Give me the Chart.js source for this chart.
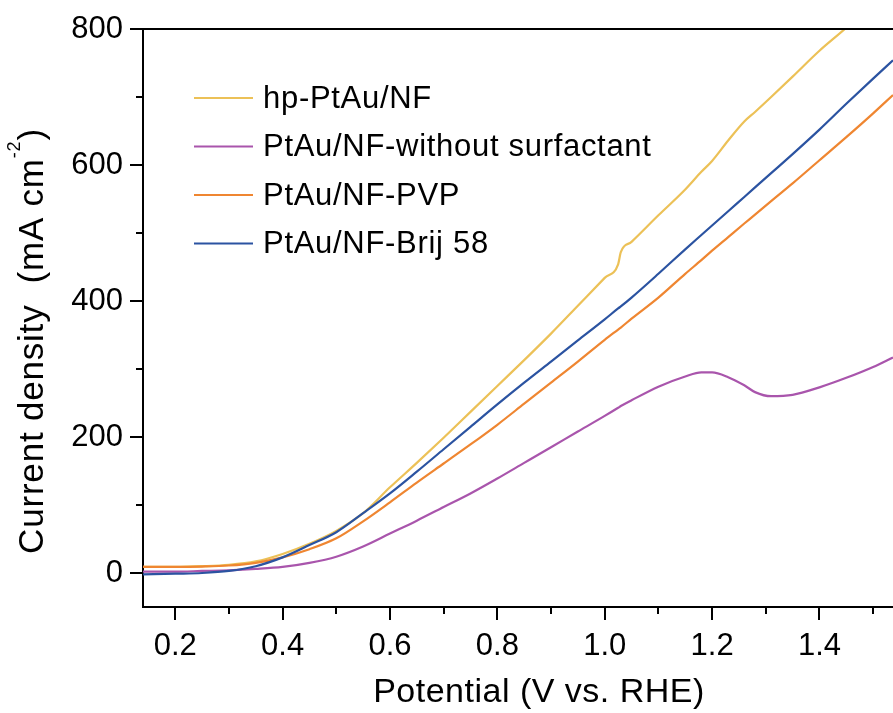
<!DOCTYPE html>
<html>
<head>
<meta charset="utf-8">
<script src="https://cdn.jsdelivr.net/npm/chart.js@4.4.1/dist/chart.umd.min.js"></script>
<style>
html, body { margin: 0; padding: 0; background: #fff; }
</style>
</head>
<body>
<canvas id="lsv" width="893" height="713"></canvas>
<script>
var FONT = '"Liberation Sans", Arial, sans-serif';

// potential (V vs. RHE)
var potential = [0.14, 0.2, 0.25, 0.3, 0.35, 0.4, 0.45, 0.5, 0.55, 0.6, 0.65, 0.7, 0.75, 0.8, 0.85, 0.9, 0.95, 1.0,
                 1.025, 1.03, 1.05, 1.1, 1.15, 1.18, 1.2, 1.23, 1.26, 1.28, 1.31, 1.35, 1.4, 1.45, 1.5, 1.537];

// current density (mA cm-2)
var hpPtAu = [9, 9, 10, 12, 17, 28, 43, 62, 88, 126, 162, 199, 237, 275, 313, 352, 393, 434,
              454, 472, 487, 526, 564, 590, 606, 636, 664, 678, 700, 730, 768, 802, 840, 868];
var noSurf = [2, 2, 3, 4, 6, 9, 15, 24, 39, 58, 77, 97, 117, 139, 162, 185, 208, 231,
              243, 245.5, 254, 274, 289, 295, 295, 288, 276, 266, 260, 262, 273, 287, 303, 317];
var pvp    = [9, 9, 9.5, 11, 15, 23, 35, 51, 76, 104, 133, 161, 189, 218, 249, 280, 311, 343,
              358, 361, 374, 405, 440, 460, 474, 494, 514, 527, 547, 573, 607, 641, 676, 703];
var brij   = [-2, -1, 0, 3, 10, 23, 41, 60, 88, 117, 149, 182, 215, 248, 280, 311, 342, 373,
              389, 392, 405, 440, 476, 497, 511, 532, 553, 567, 588, 616, 652, 690, 727, 754];

var labels = ['hp-PtAu/NF', 'PtAu/NF-without surfactant', 'PtAu/NF-PVP', 'PtAu/NF-Brij 58'];
var colors = ['#ECC157', '#A955AC', '#EF8631', '#2B53A1'];
var series = [hpPtAu, noSurf, pvp, brij];

function pts(ys) {
	return potential.map(function(x, i) { return { x: x, y: ys[i] }; });
}

var datasets = series.map(function(ys, i) {
	return {
		label: labels[i],
		data: pts(ys),
		borderColor: colors[i],
		borderWidth: 2.2,
		pointRadius: 0,
		cubicInterpolationMode: 'monotone',
		order: 4 - i
	};
});

var extras = {
	id: 'extras',
	afterDraw: function(chart) {
		var ctx = chart.ctx, a = chart.chartArea;
		var sx = chart.scales.x, sy = chart.scales.y;
		ctx.save();
		ctx.strokeStyle = '#000';
		ctx.lineWidth = 2;
		// top frame
		ctx.beginPath(); ctx.moveTo(a.left - 1, a.top); ctx.lineTo(a.right, a.top); ctx.stroke();
		// x ticks, major every 0.2, minor between
		sx.ticks.forEach(function(t) {
			var k = Math.round(t.value * 10);
			if (Math.abs(t.value * 10 - k) > 1e-6) return;
			var len = k % 2 === 0 ? 13 : 7;
			var p = Math.round(sx.getPixelForValue(t.value));
			ctx.beginPath(); ctx.moveTo(p, a.bottom); ctx.lineTo(p, a.bottom + len); ctx.stroke();
		});
		// y ticks, major every 200
		sy.ticks.forEach(function(t) {
			if (t.value % 100 !== 0) return;
			var len = t.value % 200 === 0 ? 13 : 7;
			var p = Math.round(sy.getPixelForValue(t.value));
			ctx.beginPath(); ctx.moveTo(a.left, p); ctx.lineTo(a.left - len, p); ctx.stroke();
		});

		// legend
		ctx.font = '31px ' + FONT;
		ctx.letterSpacing = '0.7px';
		ctx.textBaseline = 'middle';
		ctx.textAlign = 'left';
		chart.data.datasets.forEach(function(ds, i) {
			var y = a.top + 69 + i * 48.5;
			ctx.strokeStyle = ds.borderColor;
			ctx.lineWidth = 2;
			ctx.beginPath(); ctx.moveTo(a.left + 51, y); ctx.lineTo(a.left + 110, y); ctx.stroke();
			ctx.fillStyle = '#000';
			ctx.fillText(ds.label, a.left + 120, y + 1);
		});

		// x title
		ctx.fillStyle = '#000';
		ctx.textBaseline = 'alphabetic';
		ctx.textAlign = 'center';
		ctx.font = '34px ' + FONT;
		ctx.letterSpacing = '0.5px';
		ctx.fillText('Potential (V vs. RHE)', a.left + 396, 702);

		// y title with superscript
		ctx.translate(43, (a.top + a.bottom) / 2 + 23);
		ctx.rotate(-Math.PI / 2);
		ctx.textAlign = 'left';
		ctx.letterSpacing = '0.8px';
		var main = 'Current density  (mA cm';
		ctx.font = '35px ' + FONT;
		var w1 = ctx.measureText(main).width, w3 = ctx.measureText(')').width;
		ctx.font = '18px ' + FONT;
		var w2 = ctx.measureText('-2').width;
		var x0 = -(w1 + w2 + w3) / 2;
		ctx.font = '35px ' + FONT;
		ctx.fillText(main, x0, 0);
		ctx.fillText(')', x0 + w1 + w2, 0);
		ctx.font = '18px ' + FONT;
		ctx.fillText('-2', x0 + w1, -23);
		ctx.restore();
	}
};

new Chart(document.getElementById('lsv'), {
	type: 'line',
	data: { datasets: datasets },
	options: {
		responsive: false,
		animation: false,
		layout: { padding: { top: 29, right: 0, left: 0, bottom: 0 } },
		plugins: { legend: { display: false }, tooltip: { enabled: false } },
		scales: {
			x: {
				type: 'linear', min: 0.14, max: 1.537,
				border: { color: '#000', width: 2 },
				grid: { drawOnChartArea: false, drawTicks: true, tickLength: 13, tickColor: 'rgba(0,0,0,0)' },
				ticks: {
					stepSize: 0.1, maxTicksLimit: 16, autoSkip: false, includeBounds: false, maxRotation: 0,
					padding: 8, color: '#000', font: { family: FONT, size: 31 },
					callback: function(v) {
						var k = Math.round(v * 10);
						if (Math.abs(v * 10 - k) > 1e-6) return '';
						return k % 2 === 0 ? (k / 10).toFixed(1) : '';
					}
				},
				afterFit: function(s) { s.height = 106; }
			},
			y: {
				type: 'linear', min: -50, max: 800,
				border: { color: '#000', width: 2 },
				grid: { drawOnChartArea: false, drawTicks: true, tickLength: 13, tickColor: 'rgba(0,0,0,0)' },
				ticks: {
					stepSize: 100, maxTicksLimit: 10, autoSkip: false, includeBounds: false,
					padding: 7, color: '#000', font: { family: FONT, size: 31 },
					callback: function(v) { return v % 200 === 0 ? String(v) : ''; }
				},
				afterFit: function(s) { s.width = 143; }
			}
		}
	},
	plugins: [extras]
});
</script>
</body>
</html>
